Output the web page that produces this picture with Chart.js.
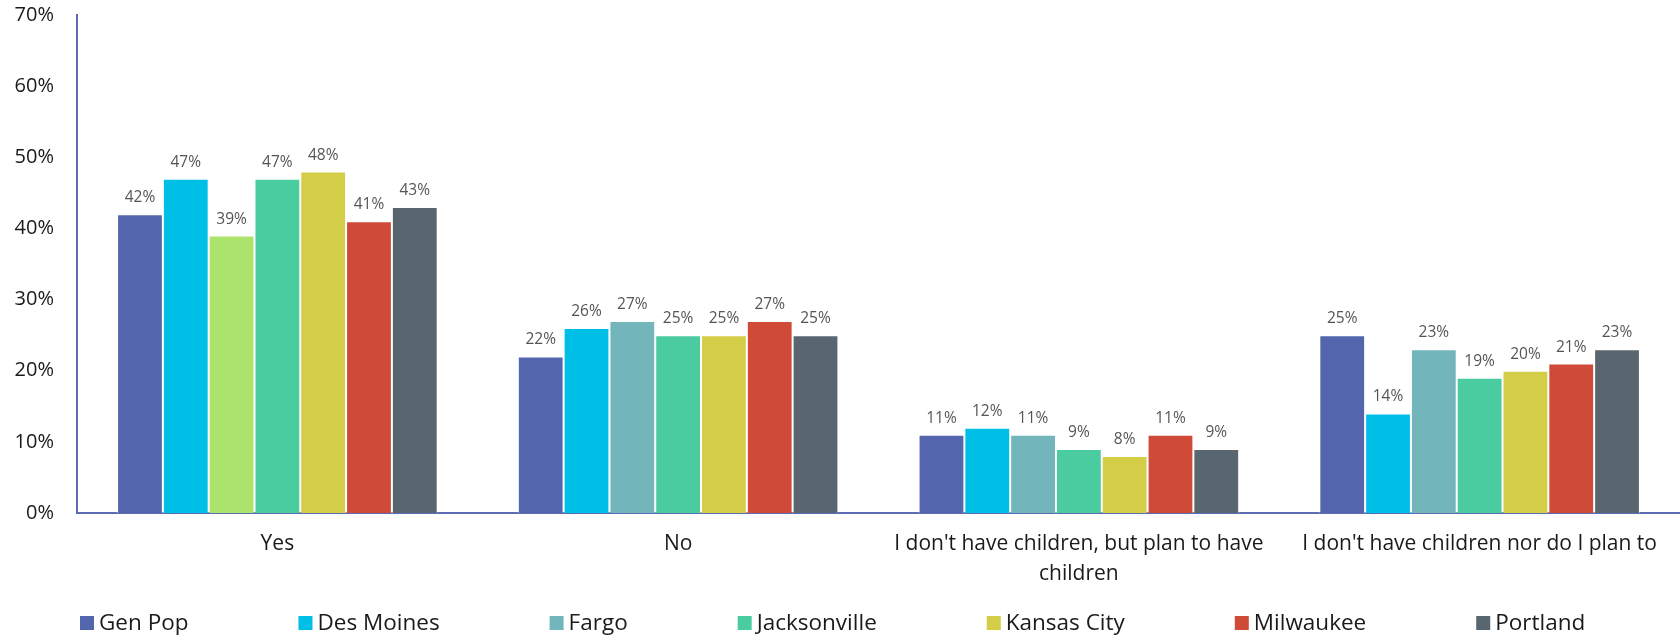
<!DOCTYPE html>
<html>
<head>
<meta charset="utf-8">
<script src="https://cdn.jsdelivr.net/npm/chart.js@4.4.1/dist/chart.umd.min.js"></script>
<style>
  html, body { margin: 0; padding: 0; background: #ffffff; }
  canvas { display: block; }
</style>
</head>
<body>
<canvas id="chart" width="1680" height="635"></canvas>
<script>
// Survey answers, one group of bars per answer
const categories = [
  "Yes",
  "No",
  ["I don't have children, but plan to have", "children"],
  "I don't have children nor do I plan to"
];

// Share of respondents (%) per market
const genPop       = [42, 22, 11, 25];
const desMoines    = [47, 26, 12, 14];
const fargo        = [39, 27, 11, 23];
const jacksonville = [47, 25, 9, 19];
const kansasCity   = [48, 25, 8, 20];
const milwaukee    = [41, 27, 11, 21];
const portland     = [43, 25, 9, 23];

const seriesNames = ["Gen Pop", "Des Moines", "Fargo", "Jacksonville", "Kansas City", "Milwaukee", "Portland"];
const yTicks = [0, 10, 20, 30, 40, 50, 60, 70];

const colors = {
  genPop: "#5366ad",
  desMoines: "#00bfe7",
  fargo: "#72b6bb",
  fargoYes: "#abe36d",
  jacksonville: "#4bcca0",
  kansasCity: "#d4cd47",
  milwaukee: "#d04a38",
  portland: "#59666f"
};
const axisColor = "#5b6cb4";

function bar(label, data, color) {
  return {
    label: label,
    data: data,
    backgroundColor: color,
    legendColor: Array.isArray(color) ? color[1] : color,
    borderColor: "rgba(255,255,255,0.55)",
    borderWidth: 1,
    categoryPercentage: 0.8,
    barPercentage: 1.0
  };
}

// Value labels above every bar
const valueLabels = {
  id: "valueLabels",
  afterDatasetsDraw(chart) {
    const ctx = chart.ctx;
    ctx.save();
    ctx.font = "15.5px 'Open Sans'";
    ctx.fillStyle = "#555555";
    ctx.textAlign = "center";
    ctx.textBaseline = "alphabetic";
    chart.data.datasets.forEach((ds, i) => {
      const meta = chart.getDatasetMeta(i);
      meta.data.forEach((el, j) => {
        ctx.fillText(ds.data[j] + "%", el.x, el.y - 12);
      });
    });
    ctx.restore();
  }
};

// Legend row along the bottom edge
const bottomLegend = {
  id: "bottomLegend",
  afterDraw(chart) {
    const ctx = chart.ctx;
    const box = 14, gapText = 5, gapItem = 110, yMid = 623;
    ctx.save();
    ctx.font = "22.5px 'Open Sans'";
    ctx.textBaseline = "middle";
    let x = 80;
    chart.data.datasets.forEach(ds => {
      ctx.fillStyle = ds.legendColor;
      ctx.fillRect(x, yMid - box / 2, box, box);
      const tx = x + box + gapText;
      ctx.fillStyle = "#1a1a1a";
      ctx.fillText(ds.label, tx, yMid + 1);
      x = tx + ctx.measureText(ds.label).width + gapItem;
    });
    ctx.restore();
  }
};

new Chart(document.getElementById("chart"), {
  type: "bar",
  data: {
    labels: categories,
    datasets: [
      bar(seriesNames[0], genPop, colors.genPop),
      bar(seriesNames[1], desMoines, colors.desMoines),
      bar(seriesNames[2], fargo, [colors.fargoYes, colors.fargo, colors.fargo, colors.fargo]),
      bar(seriesNames[3], jacksonville, colors.jacksonville),
      bar(seriesNames[4], kansasCity, colors.kansasCity),
      bar(seriesNames[5], milwaukee, colors.milwaukee),
      bar(seriesNames[6], portland, colors.portland)
    ]
  },
  options: {
    responsive: false,
    animation: false,
    layout: { padding: { top: 15, right: 0, bottom: 40, left: 0 } },
    plugins: {
      legend: { display: false },
      tooltip: { enabled: false }
    },
    scales: {
      x: {
        grid: { display: false, drawTicks: false },
        border: { display: true, color: axisColor, width: 2 },
        ticks: {
          color: "#1a1a1a",
          font: { family: "'Open Sans'", size: 21, lineHeight: 1.43 },
          padding: 16,
          maxRotation: 0,
          autoSkip: false
        },
        afterFit(scale) { scale.height = 82; }
      },
      y: {
        min: 0,
        max: 70,
        grid: { display: false, drawTicks: false },
        border: { display: true, color: axisColor, width: 2 },
        afterBuildTicks(scale) { scale.ticks = yTicks.map(v => ({ value: v })); },
        ticks: {
          color: "#1a1a1a",
          font: { family: "'Open Sans'", size: 20 },
          padding: 23,
          callback: v => v + "%"
        },
        afterFit(scale) {
          scale.width = 77;
          scale.paddingTop = 0;
          scale.paddingBottom = 0;
        }
      }
    }
  },
  plugins: [valueLabels, bottomLegend]
});
</script>
</body>
</html>
